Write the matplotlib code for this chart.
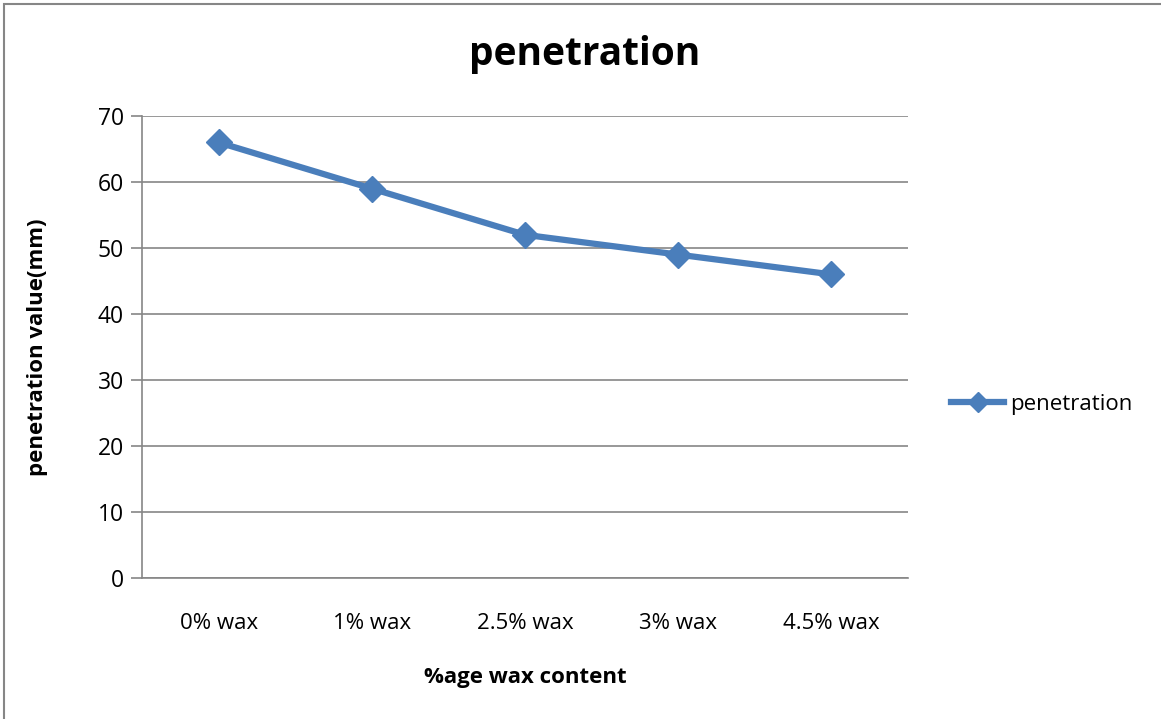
import matplotlib.pyplot as plt
from matplotlib.patches import Rectangle

# penetration test results by wax content
categories = ['0% wax', '1% wax', '2.5% wax', '3% wax', '4.5% wax']
penetration = [66, 59, 52, 49, 46]
y_ticks = [0, 10, 20, 30, 40, 50, 60, 70]

plt.rcParams['font.family'] = ['Open Sans', 'DejaVu Sans']

blue = '#4A7EBB'
grey = '#868686'

fig = plt.figure(figsize=(11.61, 7.19), dpi=100)
ax = fig.add_axes([142 / 1161, 1 - 578 / 719, 766 / 1161, 462 / 719])

# chart border
fig.patches.append(Rectangle((4 / 1161, -0.01), 1.2, 1 - 4 / 719 + 0.01,
                             transform=fig.transFigure, fill=False,
                             edgecolor=grey, linewidth=1.5))

x = range(len(categories))
ax.plot(x, penetration, color=blue, linewidth=4.5, marker='D', markersize=13,
        markerfacecolor=blue, markeredgecolor=blue, label='penetration',
        zorder=3, solid_joinstyle='round')

ax.set_xlim(-0.5, len(categories) - 0.5)
ax.set_ylim(0, 70)
ax.set_yticks(y_ticks)
ax.set_xticks(list(x))
ax.set_xticklabels(categories, fontsize=16)
ax.tick_params(axis='y', labelsize=16.5, length=8, color=grey, width=1.2, pad=5)
ax.tick_params(axis='x', length=0, pad=25)

ax.grid(axis='y', color=grey, linewidth=1.2)
ax.set_axisbelow(True)
for side in ['top', 'right']:
    ax.spines[side].set_visible(False)
for side in ['left', 'bottom']:
    ax.spines[side].set_color(grey)
    ax.spines[side].set_linewidth(1.2)

ax.set_xlabel('%age wax content', fontsize=16, fontweight='bold', labelpad=24)
ax.set_ylabel('penetration value(mm)', fontsize=16, fontweight='bold', labelpad=36)
fig.text(585 / 1161, 1 - 55 / 719, 'penetration', fontsize=28, fontweight='bold',
         ha='center', va='center')

ax.legend(loc='center left', bbox_to_anchor=(1.03, 0.375), frameon=False,
          fontsize=16, handlelength=2.4, handletextpad=0.25, markerscale=0.8)

fig.savefig('out.png', dpi=100)
